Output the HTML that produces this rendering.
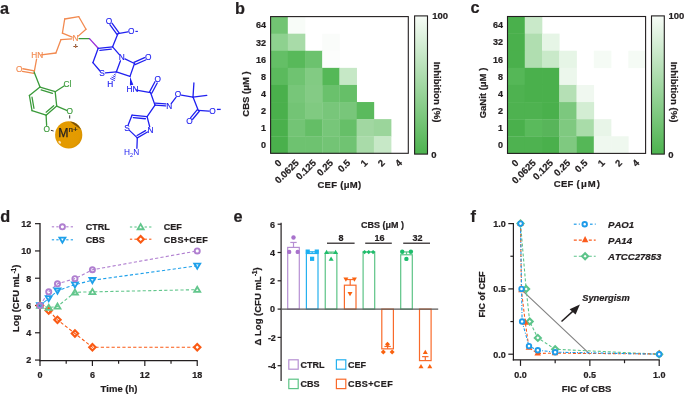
<!DOCTYPE html>
<html><head><meta charset="utf-8"><style>
html,body{margin:0;padding:0;background:#fff;overflow:hidden;}
svg{display:block;font-family:"Liberation Sans", sans-serif;font-kerning:none;filter:blur(0.4px);}
text[font-weight=bold]{stroke:#231f20;stroke-width:0.22px;}
</style></head><body>
<svg width="685" height="396" viewBox="0 0 685 396">
<rect width="685" height="396" fill="#fff"/>
<text x="0" y="13.8" font-size="16.3" font-weight="bold" text-anchor="start" fill="#231f20"  style="">a</text>
<text x="234.9" y="13.8" font-size="16.3" font-weight="bold" text-anchor="start" fill="#231f20"  style="">b</text>
<text x="470.5" y="12.7" font-size="16.3" font-weight="bold" text-anchor="start" fill="#231f20"  style="">c</text>
<text x="0.2" y="222" font-size="16.3" font-weight="bold" text-anchor="start" fill="#231f20"  style="">d</text>
<text x="233.5" y="222.3" font-size="16.3" font-weight="bold" text-anchor="start" fill="#231f20"  style="">e</text>
<text x="470.4" y="222.3" font-size="16.3" font-weight="bold" text-anchor="start" fill="#231f20"  style="">f</text>
<rect x="270.6" y="16.6" width="17.51" height="17.39" fill="#72c473"/>
<rect x="287.81" y="16.6" width="17.51" height="17.39" fill="#f8fcf8"/>
<rect x="270.6" y="33.69" width="17.51" height="17.39" fill="#8ed18f"/>
<rect x="287.81" y="33.69" width="17.51" height="17.39" fill="#a8dba8"/>
<rect x="322.24" y="33.69" width="17.51" height="17.39" fill="#fafcfa"/>
<rect x="270.6" y="50.78" width="17.51" height="17.39" fill="#64bf66"/>
<rect x="287.81" y="50.78" width="17.51" height="17.39" fill="#58b95a"/>
<rect x="305.03" y="50.78" width="17.51" height="17.39" fill="#6cc26e"/>
<rect x="322.24" y="50.78" width="17.51" height="17.39" fill="#fcfdfc"/>
<rect x="270.6" y="67.86" width="17.51" height="17.39" fill="#5bba5d"/>
<rect x="287.81" y="67.86" width="17.51" height="17.39" fill="#6fc371"/>
<rect x="305.03" y="67.86" width="17.51" height="17.39" fill="#82cb83"/>
<rect x="322.24" y="67.86" width="17.51" height="17.39" fill="#55b857"/>
<rect x="339.45" y="67.86" width="17.51" height="17.39" fill="#c6e8c6"/>
<rect x="270.6" y="84.95" width="17.51" height="17.39" fill="#4ab04c"/>
<rect x="287.81" y="84.95" width="17.51" height="17.39" fill="#77c679"/>
<rect x="305.03" y="84.95" width="17.51" height="17.39" fill="#84cb85"/>
<rect x="322.24" y="84.95" width="17.51" height="17.39" fill="#6ac16c"/>
<rect x="339.45" y="84.95" width="17.51" height="17.39" fill="#66bf68"/>
<rect x="270.6" y="102.04" width="17.51" height="17.39" fill="#4ab04c"/>
<rect x="287.81" y="102.04" width="17.51" height="17.39" fill="#73c475"/>
<rect x="305.03" y="102.04" width="17.51" height="17.39" fill="#80ca81"/>
<rect x="322.24" y="102.04" width="17.51" height="17.39" fill="#78c67a"/>
<rect x="339.45" y="102.04" width="17.51" height="17.39" fill="#78c67a"/>
<rect x="356.66" y="102.04" width="17.51" height="17.39" fill="#5bba5d"/>
<rect x="270.6" y="119.12" width="17.51" height="17.39" fill="#4ab04c"/>
<rect x="287.81" y="119.12" width="17.51" height="17.39" fill="#73c475"/>
<rect x="305.03" y="119.12" width="17.51" height="17.39" fill="#64be66"/>
<rect x="322.24" y="119.12" width="17.51" height="17.39" fill="#77c679"/>
<rect x="339.45" y="119.12" width="17.51" height="17.39" fill="#66bf68"/>
<rect x="356.66" y="119.12" width="17.51" height="17.39" fill="#a1d7a1"/>
<rect x="373.88" y="119.12" width="17.51" height="17.39" fill="#9bd59b"/>
<rect x="270.6" y="136.21" width="17.51" height="17.39" fill="#4ab04c"/>
<rect x="287.81" y="136.21" width="17.51" height="17.39" fill="#6ec270"/>
<rect x="305.03" y="136.21" width="17.51" height="17.39" fill="#6ec270"/>
<rect x="322.24" y="136.21" width="17.51" height="17.39" fill="#73c475"/>
<rect x="339.45" y="136.21" width="17.51" height="17.39" fill="#70c372"/>
<rect x="356.66" y="136.21" width="17.51" height="17.39" fill="#a9dba9"/>
<rect x="373.88" y="136.21" width="17.51" height="17.39" fill="#c7e8c7"/>
<rect x="270.6" y="16.6" width="137.7" height="136.7" fill="none" stroke="#231f20" stroke-width="1.1"/>
<text x="266" y="28.44" font-size="9" font-weight="bold" text-anchor="end" fill="#231f20"  style="">64</text>
<text x="266" y="45.53" font-size="9" font-weight="bold" text-anchor="end" fill="#231f20"  style="">32</text>
<text x="266" y="62.62" font-size="9" font-weight="bold" text-anchor="end" fill="#231f20"  style="">16</text>
<text x="266" y="79.71" font-size="9" font-weight="bold" text-anchor="end" fill="#231f20"  style="">8</text>
<text x="266" y="96.79" font-size="9" font-weight="bold" text-anchor="end" fill="#231f20"  style="">4</text>
<text x="266" y="113.88" font-size="9" font-weight="bold" text-anchor="end" fill="#231f20"  style="">2</text>
<text x="266" y="130.97" font-size="9" font-weight="bold" text-anchor="end" fill="#231f20"  style="">1</text>
<text x="266" y="148.06" font-size="9" font-weight="bold" text-anchor="end" fill="#231f20"  style="">0</text>
<text x="0" y="0" font-size="9.5" font-weight="bold" text-anchor="end" fill="#231f20" transform="translate(282.21,163.5) rotate(-45)">0</text>
<text x="0" y="0" font-size="9.5" font-weight="bold" text-anchor="end" fill="#231f20" transform="translate(299.42,163.5) rotate(-45)">0.0625</text>
<text x="0" y="0" font-size="9.5" font-weight="bold" text-anchor="end" fill="#231f20" transform="translate(316.63,163.5) rotate(-45)">0.125</text>
<text x="0" y="0" font-size="9.5" font-weight="bold" text-anchor="end" fill="#231f20" transform="translate(333.84,163.5) rotate(-45)">0.25</text>
<text x="0" y="0" font-size="9.5" font-weight="bold" text-anchor="end" fill="#231f20" transform="translate(351.06,163.5) rotate(-45)">0.5</text>
<text x="0" y="0" font-size="9.5" font-weight="bold" text-anchor="end" fill="#231f20" transform="translate(368.27,163.5) rotate(-45)">1</text>
<text x="0" y="0" font-size="9.5" font-weight="bold" text-anchor="end" fill="#231f20" transform="translate(385.48,163.5) rotate(-45)">2</text>
<text x="0" y="0" font-size="9.5" font-weight="bold" text-anchor="end" fill="#231f20" transform="translate(402.69,163.5) rotate(-45)">4</text>
<text x="339.45" y="188.4" font-size="9.5" font-weight="bold" text-anchor="middle" fill="#231f20"  style="letter-spacing:0.3px">CEF (μM)</text>
<text x="0" y="0" font-size="9.5" font-weight="bold" text-anchor="middle" fill="#231f20" transform="translate(249.3,94) rotate(-90)">CBS (μM )</text>
<defs><linearGradient id="gb" x1="0" y1="0" x2="0" y2="1"><stop offset="0" stop-color="#f7fcf7"/><stop offset="1" stop-color="#4db34f"/></linearGradient></defs>
<rect x="414.6" y="15.9" width="12.9" height="138.2" fill="url(#gb)" stroke="#231f20" stroke-width="1.1"/>
<text x="432.2" y="19.2" font-size="9.5" font-weight="bold" text-anchor="start" fill="#231f20"  style="">100</text>
<text x="431.2" y="157.6" font-size="9.5" font-weight="bold" text-anchor="start" fill="#231f20"  style="">0</text>
<text x="0" y="0" font-size="9.6" font-weight="bold" text-anchor="middle" fill="#231f20" transform="translate(434.1,92) rotate(90)">Inhibition (%)</text>
<rect x="507.5" y="16.5" width="17.56" height="17.41" fill="#4ab04c"/>
<rect x="524.76" y="16.5" width="17.56" height="17.41" fill="#c9e9c9"/>
<rect x="507.5" y="33.61" width="17.56" height="17.41" fill="#4ab04c"/>
<rect x="524.76" y="33.61" width="17.56" height="17.41" fill="#b0deb0"/>
<rect x="542.02" y="33.61" width="17.56" height="17.41" fill="#e6f5e6"/>
<rect x="507.5" y="50.73" width="17.56" height="17.41" fill="#4ab04c"/>
<rect x="524.76" y="50.73" width="17.56" height="17.41" fill="#b0deb0"/>
<rect x="542.02" y="50.73" width="17.56" height="17.41" fill="#c9e9c9"/>
<rect x="559.29" y="50.73" width="17.56" height="17.41" fill="#e6f5e6"/>
<rect x="593.81" y="50.73" width="17.56" height="17.41" fill="#f5fbf5"/>
<rect x="628.34" y="50.73" width="17.56" height="17.41" fill="#f5fbf5"/>
<rect x="507.5" y="67.84" width="17.56" height="17.41" fill="#55b757"/>
<rect x="524.76" y="67.84" width="17.56" height="17.41" fill="#4ab04c"/>
<rect x="542.02" y="67.84" width="17.56" height="17.41" fill="#4ab04c"/>
<rect x="559.29" y="67.84" width="17.56" height="17.41" fill="#ecf7ec"/>
<rect x="507.5" y="84.95" width="17.56" height="17.41" fill="#4eb250"/>
<rect x="524.76" y="84.95" width="17.56" height="17.41" fill="#4ab04c"/>
<rect x="542.02" y="84.95" width="17.56" height="17.41" fill="#4ab04c"/>
<rect x="559.29" y="84.95" width="17.56" height="17.41" fill="#b5e0b5"/>
<rect x="576.55" y="84.95" width="17.56" height="17.41" fill="#f0f8f0"/>
<rect x="507.5" y="102.06" width="17.56" height="17.41" fill="#4eb250"/>
<rect x="524.76" y="102.06" width="17.56" height="17.41" fill="#4eb250"/>
<rect x="542.02" y="102.06" width="17.56" height="17.41" fill="#4ab04c"/>
<rect x="559.29" y="102.06" width="17.56" height="17.41" fill="#7cc87e"/>
<rect x="576.55" y="102.06" width="17.56" height="17.41" fill="#d3edd3"/>
<rect x="507.5" y="119.18" width="17.56" height="17.41" fill="#4ab04c"/>
<rect x="524.76" y="119.18" width="17.56" height="17.41" fill="#5aba5c"/>
<rect x="542.02" y="119.18" width="17.56" height="17.41" fill="#58b55a"/>
<rect x="559.29" y="119.18" width="17.56" height="17.41" fill="#7fc980"/>
<rect x="576.55" y="119.18" width="17.56" height="17.41" fill="#a9dca9"/>
<rect x="593.81" y="119.18" width="17.56" height="17.41" fill="#e8f5e8"/>
<rect x="507.5" y="136.29" width="17.56" height="17.41" fill="#4eb250"/>
<rect x="524.76" y="136.29" width="17.56" height="17.41" fill="#4eb250"/>
<rect x="542.02" y="136.29" width="17.56" height="17.41" fill="#4ab04c"/>
<rect x="559.29" y="136.29" width="17.56" height="17.41" fill="#7fc980"/>
<rect x="576.55" y="136.29" width="17.56" height="17.41" fill="#55b757"/>
<rect x="593.81" y="136.29" width="17.56" height="17.41" fill="#eff8ef"/>
<rect x="611.08" y="136.29" width="17.56" height="17.41" fill="#eff8ef"/>
<rect x="507.5" y="16.5" width="138.1" height="136.9" fill="none" stroke="#231f20" stroke-width="1.1"/>
<text x="502.9" y="28.36" font-size="9" font-weight="bold" text-anchor="end" fill="#231f20"  style="">64</text>
<text x="502.9" y="45.47" font-size="9" font-weight="bold" text-anchor="end" fill="#231f20"  style="">32</text>
<text x="502.9" y="62.58" font-size="9" font-weight="bold" text-anchor="end" fill="#231f20"  style="">16</text>
<text x="502.9" y="79.69" font-size="9" font-weight="bold" text-anchor="end" fill="#231f20"  style="">8</text>
<text x="502.9" y="96.81" font-size="9" font-weight="bold" text-anchor="end" fill="#231f20"  style="">4</text>
<text x="502.9" y="113.92" font-size="9" font-weight="bold" text-anchor="end" fill="#231f20"  style="">2</text>
<text x="502.9" y="131.03" font-size="9" font-weight="bold" text-anchor="end" fill="#231f20"  style="">1</text>
<text x="502.9" y="148.14" font-size="9" font-weight="bold" text-anchor="end" fill="#231f20"  style="">0</text>
<text x="0" y="0" font-size="9.5" font-weight="bold" text-anchor="end" fill="#231f20" transform="translate(519.13,163.6) rotate(-45)">0</text>
<text x="0" y="0" font-size="9.5" font-weight="bold" text-anchor="end" fill="#231f20" transform="translate(536.39,163.6) rotate(-45)">0.0625</text>
<text x="0" y="0" font-size="9.5" font-weight="bold" text-anchor="end" fill="#231f20" transform="translate(553.66,163.6) rotate(-45)">0.125</text>
<text x="0" y="0" font-size="9.5" font-weight="bold" text-anchor="end" fill="#231f20" transform="translate(570.92,163.6) rotate(-45)">0.25</text>
<text x="0" y="0" font-size="9.5" font-weight="bold" text-anchor="end" fill="#231f20" transform="translate(588.18,163.6) rotate(-45)">0.5</text>
<text x="0" y="0" font-size="9.5" font-weight="bold" text-anchor="end" fill="#231f20" transform="translate(605.44,163.6) rotate(-45)">1</text>
<text x="0" y="0" font-size="9.5" font-weight="bold" text-anchor="end" fill="#231f20" transform="translate(622.71,163.6) rotate(-45)">2</text>
<text x="0" y="0" font-size="9.5" font-weight="bold" text-anchor="end" fill="#231f20" transform="translate(639.97,163.6) rotate(-45)">4</text>
<text x="576.95" y="187.4" font-size="9.5" font-weight="bold" text-anchor="middle" fill="#231f20"  style="letter-spacing:0.3px">CEF (<tspan dx="0.8">μ</tspan><tspan dx="0.8">M</tspan><tspan dx="0.6">)</tspan></text>
<text x="0" y="0" font-size="9.5" font-weight="bold" text-anchor="middle" fill="#231f20" transform="translate(485.5,93) rotate(-90)">GaNit (μM )</text>
<defs><linearGradient id="gc" x1="0" y1="0" x2="0" y2="1"><stop offset="0" stop-color="#f7fcf7"/><stop offset="1" stop-color="#4db34f"/></linearGradient></defs>
<rect x="651.5" y="15.9" width="12.8" height="138.2" fill="url(#gc)" stroke="#231f20" stroke-width="1.1"/>
<text x="668.5" y="19.2" font-size="9.5" font-weight="bold" text-anchor="start" fill="#231f20"  style="">100</text>
<text x="668.2" y="157.6" font-size="9.5" font-weight="bold" text-anchor="start" fill="#231f20"  style="">0</text>
<text x="0" y="0" font-size="9.6" font-weight="bold" text-anchor="middle" fill="#231f20" transform="translate(670.9,92) rotate(90)">Inhibition (%)</text>
<line x1="40" y1="223" x2="40" y2="361.2" stroke="#231f20" stroke-width="1.3"/>
<line x1="39.4" y1="360.6" x2="197.6" y2="360.6" stroke="#231f20" stroke-width="1.3"/>
<line x1="35" y1="360.06" x2="40" y2="360.06" stroke="#231f20" stroke-width="1.2" />
<text x="31.3" y="363.36" font-size="9" font-weight="bold" text-anchor="end" fill="#231f20"  style="">2</text>
<line x1="35" y1="332.78" x2="40" y2="332.78" stroke="#231f20" stroke-width="1.2" />
<text x="31.3" y="336.08" font-size="9" font-weight="bold" text-anchor="end" fill="#231f20"  style="">4</text>
<line x1="35" y1="305.5" x2="40" y2="305.5" stroke="#231f20" stroke-width="1.2" />
<text x="31.3" y="308.8" font-size="9" font-weight="bold" text-anchor="end" fill="#231f20"  style="">6</text>
<line x1="35" y1="278.22" x2="40" y2="278.22" stroke="#231f20" stroke-width="1.2" />
<text x="31.3" y="281.52" font-size="9" font-weight="bold" text-anchor="end" fill="#231f20"  style="">8</text>
<line x1="35" y1="250.94" x2="40" y2="250.94" stroke="#231f20" stroke-width="1.2" />
<text x="31.3" y="254.24" font-size="9" font-weight="bold" text-anchor="end" fill="#231f20"  style="">10</text>
<line x1="35" y1="223.66" x2="40" y2="223.66" stroke="#231f20" stroke-width="1.2" />
<text x="31.3" y="226.96" font-size="9" font-weight="bold" text-anchor="end" fill="#231f20"  style="">12</text>
<line x1="40" y1="360.6" x2="40" y2="366" stroke="#231f20" stroke-width="1.2" />
<text x="40" y="377.6" font-size="9" font-weight="bold" text-anchor="middle" fill="#231f20"  style="">0</text>
<line x1="92.41" y1="360.6" x2="92.41" y2="366" stroke="#231f20" stroke-width="1.2" />
<text x="92.41" y="377.6" font-size="9" font-weight="bold" text-anchor="middle" fill="#231f20"  style="">6</text>
<line x1="144.82" y1="360.6" x2="144.82" y2="366" stroke="#231f20" stroke-width="1.2" />
<text x="144.82" y="377.6" font-size="9" font-weight="bold" text-anchor="middle" fill="#231f20"  style="">12</text>
<line x1="197.23" y1="360.6" x2="197.23" y2="366" stroke="#231f20" stroke-width="1.2" />
<text x="197.23" y="377.6" font-size="9" font-weight="bold" text-anchor="middle" fill="#231f20"  style="">18</text>
<line x1="66.2" y1="360.6" x2="66.2" y2="363.8" stroke="#231f20" stroke-width="1.2" />
<line x1="118.61" y1="360.6" x2="118.61" y2="363.8" stroke="#231f20" stroke-width="1.2" />
<line x1="171.02" y1="360.6" x2="171.02" y2="363.8" stroke="#231f20" stroke-width="1.2" />
<text x="119" y="391.7" font-size="9.5" font-weight="bold" text-anchor="middle" fill="#231f20"  style="">Time (h)</text>
<text x="0" y="0" font-size="9.3" font-weight="bold" text-anchor="middle" fill="#231f20" transform="translate(19.3,298.3) rotate(-90)">Log (CFU mL<tspan dy="-3.4" font-size="6.5">-1</tspan><tspan dy="3">)</tspan></text>
<polyline points="40,305.5 48.73,307.55 57.47,306.45 74.94,292.27 92.41,291.86 197.23,289.68" fill="none" stroke="#62c68c" stroke-width="1.1" stroke-dasharray="3.2 2.2"/>
<polyline points="40,305.5 48.73,310.55 57.47,319.82 74.94,333.46 92.41,347.24 197.23,347.24" fill="none" stroke="#fa5a14" stroke-width="1.1" stroke-dasharray="3.2 2.2"/>
<polyline points="40,305.5 48.73,298.41 57.47,290.77 74.94,284.63 92.41,280.27 197.23,265.81" fill="none" stroke="#1ea0ea" stroke-width="1.1" stroke-dasharray="3.2 2.2"/>
<polyline points="40,305.5 48.73,291.86 57.47,283.81 74.94,278.63 92.41,269.76 197.23,250.94" fill="none" stroke="#b07fd0" stroke-width="1.1" stroke-dasharray="3.2 2.2"/>
<path d="M40,302.3 L43.2,305.5 L40,308.7 L36.8,305.5 Z" fill="none" stroke="#fa5a14" stroke-width="2.1"/>
<path d="M48.73,307.35 L51.94,310.55 L48.73,313.75 L45.53,310.55 Z" fill="none" stroke="#fa5a14" stroke-width="2.1"/>
<path d="M57.47,316.62 L60.67,319.82 L57.47,323.02 L54.27,319.82 Z" fill="none" stroke="#fa5a14" stroke-width="2.1"/>
<path d="M74.94,330.26 L78.14,333.46 L74.94,336.66 L71.74,333.46 Z" fill="none" stroke="#fa5a14" stroke-width="2.1"/>
<path d="M92.41,344.04 L95.61,347.24 L92.41,350.44 L89.21,347.24 Z" fill="none" stroke="#fa5a14" stroke-width="2.1"/>
<path d="M197.23,344.04 L200.43,347.24 L197.23,350.44 L194.03,347.24 Z" fill="none" stroke="#fa5a14" stroke-width="2.1"/>
<path d="M37,307.75 L43,307.75 L40,302.65 Z" fill="none" stroke="#62c68c" stroke-width="1.8" stroke-linejoin="miter"/>
<path d="M45.73,309.8 L51.73,309.8 L48.73,304.7 Z" fill="none" stroke="#62c68c" stroke-width="1.8" stroke-linejoin="miter"/>
<path d="M54.47,308.7 L60.47,308.7 L57.47,303.6 Z" fill="none" stroke="#62c68c" stroke-width="1.8" stroke-linejoin="miter"/>
<path d="M71.94,294.52 L77.94,294.52 L74.94,289.42 Z" fill="none" stroke="#62c68c" stroke-width="1.8" stroke-linejoin="miter"/>
<path d="M89.41,294.11 L95.41,294.11 L92.41,289.01 Z" fill="none" stroke="#62c68c" stroke-width="1.8" stroke-linejoin="miter"/>
<path d="M194.23,291.93 L200.23,291.93 L197.23,286.83 Z" fill="none" stroke="#62c68c" stroke-width="1.8" stroke-linejoin="miter"/>
<path d="M37,303.25 L43,303.25 L40,308.35 Z" fill="none" stroke="#1ea0ea" stroke-width="1.8" stroke-linejoin="miter"/>
<path d="M45.73,296.16 L51.73,296.16 L48.73,301.26 Z" fill="none" stroke="#1ea0ea" stroke-width="1.8" stroke-linejoin="miter"/>
<path d="M54.47,288.52 L60.47,288.52 L57.47,293.62 Z" fill="none" stroke="#1ea0ea" stroke-width="1.8" stroke-linejoin="miter"/>
<path d="M71.94,282.38 L77.94,282.38 L74.94,287.48 Z" fill="none" stroke="#1ea0ea" stroke-width="1.8" stroke-linejoin="miter"/>
<path d="M89.41,278.02 L95.41,278.02 L92.41,283.12 Z" fill="none" stroke="#1ea0ea" stroke-width="1.8" stroke-linejoin="miter"/>
<path d="M194.23,263.56 L200.23,263.56 L197.23,268.66 Z" fill="none" stroke="#1ea0ea" stroke-width="1.8" stroke-linejoin="miter"/>
<circle cx="40" cy="305.5" r="2.55" fill="none" stroke="#b07fd0" stroke-width="1.9"/>
<circle cx="48.73" cy="291.86" r="2.55" fill="none" stroke="#b07fd0" stroke-width="1.9"/>
<circle cx="57.47" cy="283.81" r="2.55" fill="none" stroke="#b07fd0" stroke-width="1.9"/>
<circle cx="74.94" cy="278.63" r="2.55" fill="none" stroke="#b07fd0" stroke-width="1.9"/>
<circle cx="92.41" cy="269.76" r="2.55" fill="none" stroke="#b07fd0" stroke-width="1.9"/>
<circle cx="197.23" cy="250.94" r="2.55" fill="none" stroke="#b07fd0" stroke-width="1.9"/>
<line x1="51.8" y1="226.8" x2="54.1" y2="226.8" stroke="#b07fd0" stroke-width="1.1" />
<line x1="56.3" y1="226.8" x2="58.6" y2="226.8" stroke="#b07fd0" stroke-width="1.1" />
<line x1="66.2" y1="226.8" x2="68.5" y2="226.8" stroke="#b07fd0" stroke-width="1.1" />
<line x1="70.7" y1="226.8" x2="73" y2="226.8" stroke="#b07fd0" stroke-width="1.1" />
<circle cx="62.4" cy="226.8" r="2.55" fill="none" stroke="#b07fd0" stroke-width="1.9"/>
<text x="85.8" y="230.1" font-size="9" font-weight="bold" text-anchor="start" fill="#231f20"  style="">CTRL</text>
<line x1="51.8" y1="239.8" x2="54.1" y2="239.8" stroke="#1ea0ea" stroke-width="1.1" />
<line x1="56.3" y1="239.8" x2="58.6" y2="239.8" stroke="#1ea0ea" stroke-width="1.1" />
<line x1="66.2" y1="239.8" x2="68.5" y2="239.8" stroke="#1ea0ea" stroke-width="1.1" />
<line x1="70.7" y1="239.8" x2="73" y2="239.8" stroke="#1ea0ea" stroke-width="1.1" />
<path d="M59.4,237.55 L65.4,237.55 L62.4,242.65 Z" fill="none" stroke="#1ea0ea" stroke-width="1.8" stroke-linejoin="miter"/>
<text x="85.8" y="243.1" font-size="9" font-weight="bold" text-anchor="start" fill="#231f20"  style="">CBS</text>
<line x1="129.9" y1="227" x2="132.2" y2="227" stroke="#62c68c" stroke-width="1.1" />
<line x1="134.4" y1="227" x2="136.7" y2="227" stroke="#62c68c" stroke-width="1.1" />
<line x1="144.6" y1="227" x2="146.9" y2="227" stroke="#62c68c" stroke-width="1.1" />
<line x1="149.1" y1="227" x2="151.4" y2="227" stroke="#62c68c" stroke-width="1.1" />
<path d="M137.65,229.25 L143.65,229.25 L140.65,224.15 Z" fill="none" stroke="#62c68c" stroke-width="1.8" stroke-linejoin="miter"/>
<text x="163.8" y="230.3" font-size="9" font-weight="bold" text-anchor="start" fill="#231f20"  style="">CEF</text>
<line x1="129.9" y1="239.2" x2="132.2" y2="239.2" stroke="#fa5a14" stroke-width="1.1" />
<line x1="134.4" y1="239.2" x2="136.7" y2="239.2" stroke="#fa5a14" stroke-width="1.1" />
<line x1="144.6" y1="239.2" x2="146.9" y2="239.2" stroke="#fa5a14" stroke-width="1.1" />
<line x1="149.1" y1="239.2" x2="151.4" y2="239.2" stroke="#fa5a14" stroke-width="1.1" />
<path d="M140.65,236 L143.85,239.2 L140.65,242.4 L137.45,239.2 Z" fill="none" stroke="#fa5a14" stroke-width="2.1"/>
<text x="163.8" y="242.5" font-size="9" font-weight="bold" text-anchor="start" fill="#231f20"  style="letter-spacing:0.3px">CBS+CEF</text>
<line x1="281.1" y1="222.8" x2="281.1" y2="381.0" stroke="#231f20" stroke-width="1.2"/>
<line x1="277.6" y1="224.2" x2="281.1" y2="224.2" stroke="#231f20" stroke-width="1.2" />
<text x="275" y="227.5" font-size="9" font-weight="bold" text-anchor="end" fill="#231f20"  style="">6</text>
<line x1="277.6" y1="252.5" x2="281.1" y2="252.5" stroke="#231f20" stroke-width="1.2" />
<text x="275" y="255.8" font-size="9" font-weight="bold" text-anchor="end" fill="#231f20"  style="">4</text>
<line x1="277.6" y1="280.8" x2="281.1" y2="280.8" stroke="#231f20" stroke-width="1.2" />
<text x="275" y="284.1" font-size="9" font-weight="bold" text-anchor="end" fill="#231f20"  style="">2</text>
<line x1="277.6" y1="309.1" x2="281.1" y2="309.1" stroke="#231f20" stroke-width="1.2" />
<text x="275" y="312.4" font-size="9" font-weight="bold" text-anchor="end" fill="#231f20"  style="">0</text>
<line x1="277.6" y1="337.4" x2="281.1" y2="337.4" stroke="#231f20" stroke-width="1.2" />
<text x="275.9" y="340.7" font-size="9" font-weight="bold" text-anchor="end" fill="#231f20"  style="">-2</text>
<line x1="277.6" y1="365.7" x2="281.1" y2="365.7" stroke="#231f20" stroke-width="1.2" />
<text x="275.9" y="369" font-size="9" font-weight="bold" text-anchor="end" fill="#231f20"  style="">-4</text>
<text x="0" y="0" font-size="9.5" font-weight="bold" text-anchor="middle" fill="#231f20" transform="translate(260.8,306.4) rotate(-90)">Δ Log (CFU mL<tspan dy="-3.4" font-size="6.5">-1</tspan><tspan dy="3">)</tspan></text>
<rect x="287.7" y="247.41" width="11.6" height="61.69" fill="#fff" stroke="#b68fd3" stroke-width="1.2"/>
<line x1="293.5" y1="247.41" x2="293.5" y2="242.45" stroke="#b68fd3" stroke-width="1.2" />
<line x1="290.3" y1="242.45" x2="296.7" y2="242.45" stroke="#b68fd3" stroke-width="1.2" />
<rect x="306.4" y="253.49" width="11.6" height="55.61" fill="#fff" stroke="#25b1ef" stroke-width="1.2"/>
<line x1="312.2" y1="253.49" x2="312.2" y2="251.79" stroke="#25b1ef" stroke-width="1.2" />
<line x1="309" y1="251.79" x2="315.4" y2="251.79" stroke="#25b1ef" stroke-width="1.2" />
<rect x="325.25" y="253.21" width="11.6" height="55.89" fill="#fff" stroke="#5cc486" stroke-width="1.2"/>
<line x1="331.05" y1="253.21" x2="331.05" y2="252.08" stroke="#5cc486" stroke-width="1.2" />
<line x1="327.85" y1="252.08" x2="334.25" y2="252.08" stroke="#5cc486" stroke-width="1.2" />
<rect x="344.4" y="285.19" width="11.6" height="23.91" fill="#fff" stroke="#f96a2a" stroke-width="1.2"/>
<line x1="350.2" y1="285.19" x2="350.2" y2="279.53" stroke="#f96a2a" stroke-width="1.2" />
<line x1="347" y1="279.53" x2="353.4" y2="279.53" stroke="#f96a2a" stroke-width="1.2" />
<rect x="363.1" y="251.93" width="11.6" height="57.17" fill="#fff" stroke="#5cc486" stroke-width="1.2"/>
<rect x="381.8" y="309.1" width="11.6" height="39.76" fill="#fff" stroke="#f96a2a" stroke-width="1.2"/>
<line x1="387.6" y1="348.86" x2="387.6" y2="346.46" stroke="#f96a2a" stroke-width="1.2" />
<line x1="384.4" y1="346.46" x2="390.8" y2="346.46" stroke="#f96a2a" stroke-width="1.2" />
<rect x="400.7" y="254.76" width="11.6" height="54.34" fill="#fff" stroke="#5cc486" stroke-width="1.2"/>
<line x1="406.5" y1="254.76" x2="406.5" y2="251.93" stroke="#5cc486" stroke-width="1.2" />
<line x1="403.3" y1="251.93" x2="409.7" y2="251.93" stroke="#5cc486" stroke-width="1.2" />
<rect x="419.5" y="309.1" width="11.6" height="51.51" fill="#fff" stroke="#f96a2a" stroke-width="1.2"/>
<line x1="425.3" y1="360.61" x2="425.3" y2="356.64" stroke="#f96a2a" stroke-width="1.2" />
<line x1="422.1" y1="356.64" x2="428.5" y2="356.64" stroke="#f96a2a" stroke-width="1.2" />
<line x1="281.1" y1="309.1" x2="438.2" y2="309.1" stroke="#5a5a5a" stroke-width="1.4"/>
<circle cx="293.5" cy="237.5" r="2.2" fill="#a872cc"/>
<circle cx="289.2" cy="251.9" r="2.2" fill="#a872cc"/>
<circle cx="297.7" cy="251.9" r="2.2" fill="#a872cc"/>
<rect x="305.6" y="249.5" width="4.2" height="4.2" fill="#1cb0f2"/>
<rect x="314.7" y="249.5" width="4.2" height="4.2" fill="#1cb0f2"/>
<rect x="310" y="256.7" width="4.2" height="4.2" fill="#1cb0f2"/>
<path d="M324.1,253.9 L329.1,253.9 L326.6,249.65 Z" fill="#1fbd6c"/>
<path d="M333.1,253.9 L338.1,253.9 L335.6,249.65 Z" fill="#1fbd6c"/>
<path d="M328.6,260.7 L333.6,260.7 L331.1,256.45 Z" fill="#1fbd6c"/>
<path d="M343.4,277.6 L348.4,277.6 L345.9,281.85 Z" fill="#f9620f"/>
<path d="M351.9,277.6 L356.9,277.6 L354.4,281.85 Z" fill="#f9620f"/>
<path d="M347.5,292 L352.5,292 L350,296.25 Z" fill="#f9620f"/>
<path d="M364.6,249.9 L366.8,252.1 L364.6,254.3 L362.4,252.1 Z" fill="#1fbd6c"/>
<path d="M368.7,249.9 L370.9,252.1 L368.7,254.3 L366.5,252.1 Z" fill="#1fbd6c"/>
<path d="M373.1,249.9 L375.3,252.1 L373.1,254.3 L370.9,252.1 Z" fill="#1fbd6c"/>
<path d="M387.5,341.7 L390,344.2 L387.5,346.7 L385,344.2 Z" fill="#f9620f"/>
<path d="M383.3,349.5 L385.8,352 L383.3,354.5 L380.8,352 Z" fill="#f9620f"/>
<path d="M392.1,349.5 L394.6,352 L392.1,354.5 L389.6,352 Z" fill="#f9620f"/>
<circle cx="402.2" cy="251.8" r="2.2" fill="#1fbd6c"/>
<circle cx="410.9" cy="251.8" r="2.2" fill="#1fbd6c"/>
<circle cx="406.4" cy="258.9" r="2.2" fill="#1fbd6c"/>
<path d="M422.8,354 L427.8,354 L425.3,349.75 Z" fill="#f9620f"/>
<path d="M418.5,368.2 L423.5,368.2 L421,363.95 Z" fill="#f9620f"/>
<path d="M427.3,368.2 L432.3,368.2 L429.8,363.95 Z" fill="#f9620f"/>
<text x="382.6" y="228.4" font-size="9" font-weight="bold" text-anchor="middle" fill="#231f20"  style="">CBS (μM )</text>
<text x="340.9" y="240.9" font-size="9" font-weight="bold" text-anchor="middle" fill="#231f20"  style="">8</text>
<text x="379.6" y="240.9" font-size="9" font-weight="bold" text-anchor="middle" fill="#231f20"  style="">16</text>
<text x="417.6" y="240.9" font-size="9" font-weight="bold" text-anchor="middle" fill="#231f20"  style="">32</text>
<line x1="327" y1="243.2" x2="354.6" y2="243.2" stroke="#231f20" stroke-width="1.2" />
<line x1="365.2" y1="243.2" x2="391.8" y2="243.2" stroke="#231f20" stroke-width="1.2" />
<line x1="403.2" y1="243.2" x2="430" y2="243.2" stroke="#231f20" stroke-width="1.2" />
<rect x="288.8" y="359.8" width="9.4" height="9.4" fill="#fff" stroke="#b68fd3" stroke-width="1.2"/>
<text x="300.4" y="367.8" font-size="9" font-weight="bold" text-anchor="start" fill="#231f20"  style="">CTRL</text>
<rect x="336.4" y="359.8" width="9.4" height="9.4" fill="#fff" stroke="#25b1ef" stroke-width="1.2"/>
<text x="348" y="367.8" font-size="9" font-weight="bold" text-anchor="start" fill="#231f20"  style="">CEF</text>
<rect x="288.8" y="379.2" width="9.4" height="9.4" fill="#fff" stroke="#5cc486" stroke-width="1.2"/>
<text x="300.4" y="387.2" font-size="9" font-weight="bold" text-anchor="start" fill="#231f20"  style="">CBS</text>
<rect x="336.4" y="379.2" width="9.4" height="9.4" fill="#fff" stroke="#f96a2a" stroke-width="1.2"/>
<text x="348" y="387.2" font-size="9" font-weight="bold" text-anchor="start" fill="#231f20"  style="letter-spacing:0.4px">CBS+CEF</text>
<line x1="513.4" y1="223" x2="513.4" y2="360.4" stroke="#231f20" stroke-width="1.2"/>
<line x1="512.8" y1="359.9" x2="659.8" y2="359.9" stroke="#231f20" stroke-width="1.2"/>
<line x1="508.3" y1="354.2" x2="513.4" y2="354.2" stroke="#231f20" stroke-width="1.2" />
<text x="505.8" y="357.5" font-size="9" font-weight="bold" text-anchor="end" fill="#231f20"  style="">0.0</text>
<line x1="508.3" y1="288.9" x2="513.4" y2="288.9" stroke="#231f20" stroke-width="1.2" />
<text x="505.8" y="292.2" font-size="9" font-weight="bold" text-anchor="end" fill="#231f20"  style="">0.5</text>
<line x1="508.3" y1="223.6" x2="513.4" y2="223.6" stroke="#231f20" stroke-width="1.2" />
<text x="505.8" y="226.9" font-size="9" font-weight="bold" text-anchor="end" fill="#231f20"  style="">1.0</text>
<line x1="510.4" y1="321.55" x2="513.4" y2="321.55" stroke="#231f20" stroke-width="1.2" />
<line x1="510.4" y1="256.25" x2="513.4" y2="256.25" stroke="#231f20" stroke-width="1.2" />
<line x1="520.5" y1="359.9" x2="520.5" y2="365.9" stroke="#231f20" stroke-width="1.2" />
<text x="520.5" y="378.3" font-size="9" font-weight="bold" text-anchor="middle" fill="#231f20"  style="">0.0</text>
<line x1="589.85" y1="359.9" x2="589.85" y2="365.9" stroke="#231f20" stroke-width="1.2" />
<text x="589.85" y="378.3" font-size="9" font-weight="bold" text-anchor="middle" fill="#231f20"  style="">0.5</text>
<line x1="659.2" y1="359.9" x2="659.2" y2="365.9" stroke="#231f20" stroke-width="1.2" />
<text x="659.2" y="378.3" font-size="9" font-weight="bold" text-anchor="middle" fill="#231f20"  style="">1.0</text>
<line x1="555.17" y1="359.9" x2="555.17" y2="363.2" stroke="#231f20" stroke-width="1.2" />
<line x1="624.52" y1="359.9" x2="624.52" y2="363.2" stroke="#231f20" stroke-width="1.2" />
<text x="586.6" y="391.7" font-size="9.5" font-weight="bold" text-anchor="middle" fill="#231f20"  style="">FIC of CBS</text>
<text x="0" y="0" font-size="9" font-weight="bold" text-anchor="middle" fill="#231f20" transform="translate(485.3,294.5) rotate(-90)">FIC of CEF</text>
<line x1="520.5" y1="288.9" x2="589.85" y2="354.2" stroke="#808080" stroke-width="1.1" />
<line x1="561.5" y1="321.5" x2="573.5" y2="310.6" stroke="#231f20" stroke-width="1.5" />
<path d="M579.9,304.4 L569.6,309.3 L575.6,314.6 Z" fill="#231f20"/>
<text x="582.2" y="301.3" font-size="9.3" font-weight="bold" text-anchor="start" fill="#231f20"  style="font-style:italic">Synergism</text>
<polyline points="520.5,223.6 526.12,288.9 529.72,321.55 537.84,337.88 555.17,349.24 659.2,354.2" fill="none" stroke="#5cc48a" stroke-width="1.1" stroke-dasharray="3 2"/>
<polyline points="520.5,223.9 521.4,290.2 525.3,322.6 528.9,347.6 537.7,353.4 555,353.2 659.2,354" fill="none" stroke="#fb5c1e" stroke-width="1.1" stroke-dasharray="3 2"/>
<polyline points="520.5,223.6 521.54,288.9 522.1,321.55 528.99,346.08 537.81,350.2 555.17,352.18 659.2,354.2" fill="none" stroke="#1e9be9" stroke-width="1.1" stroke-dasharray="3 1.5 1 1.5"/>
<path d="M520.5,220.6 L523.5,223.6 L520.5,226.6 L517.5,223.6 Z" fill="#fff" stroke="#5cc48a" stroke-width="2.1"/>
<path d="M526.12,285.9 L529.12,288.9 L526.12,291.9 L523.12,288.9 Z" fill="#fff" stroke="#5cc48a" stroke-width="2.1"/>
<path d="M529.72,318.55 L532.72,321.55 L529.72,324.55 L526.72,321.55 Z" fill="#fff" stroke="#5cc48a" stroke-width="2.1"/>
<path d="M537.84,334.88 L540.84,337.88 L537.84,340.88 L534.84,337.88 Z" fill="#fff" stroke="#5cc48a" stroke-width="2.1"/>
<path d="M555.17,346.24 L558.17,349.24 L555.17,352.24 L552.17,349.24 Z" fill="#fff" stroke="#5cc48a" stroke-width="2.1"/>
<path d="M659.2,351.2 L662.2,354.2 L659.2,357.2 L656.2,354.2 Z" fill="#fff" stroke="#5cc48a" stroke-width="2.1"/>
<path d="M517.25,225.97 L523.75,225.97 L520.5,219.77 Z" fill="#fb5c1e"/>
<path d="M518.15,292.27 L524.65,292.27 L521.4,286.07 Z" fill="#fb5c1e"/>
<path d="M522.05,324.67 L528.55,324.67 L525.3,318.47 Z" fill="#fb5c1e"/>
<path d="M525.65,349.67 L532.15,349.67 L528.9,343.47 Z" fill="#fb5c1e"/>
<path d="M534.45,355.47 L540.95,355.47 L537.7,349.27 Z" fill="#fb5c1e"/>
<path d="M551.75,355.27 L558.25,355.27 L555,349.07 Z" fill="#fb5c1e"/>
<path d="M655.95,356.07 L662.45,356.07 L659.2,349.87 Z" fill="#fb5c1e"/>
<circle cx="520.5" cy="223.6" r="2.25" fill="#fff" stroke="#1e9be9" stroke-width="1.9"/>
<circle cx="521.54" cy="288.9" r="2.25" fill="#fff" stroke="#1e9be9" stroke-width="1.9"/>
<circle cx="522.1" cy="321.55" r="2.25" fill="#fff" stroke="#1e9be9" stroke-width="1.9"/>
<circle cx="528.99" cy="346.08" r="2.25" fill="#fff" stroke="#1e9be9" stroke-width="1.9"/>
<circle cx="537.81" cy="350.2" r="2.25" fill="#fff" stroke="#1e9be9" stroke-width="1.9"/>
<circle cx="555.17" cy="352.18" r="2.25" fill="#fff" stroke="#1e9be9" stroke-width="1.9"/>
<circle cx="659.2" cy="354.2" r="2.25" fill="#fff" stroke="#1e9be9" stroke-width="1.9"/>
<line x1="573.8" y1="224.2" x2="576.6" y2="224.2" stroke="#1e9be9" stroke-width="1.2" />
<line x1="578.8" y1="224.2" x2="579.8" y2="224.2" stroke="#1e9be9" stroke-width="1.2" />
<line x1="590" y1="224.2" x2="592.6" y2="224.2" stroke="#1e9be9" stroke-width="1.2" />
<line x1="594.8" y1="224.2" x2="595.7" y2="224.2" stroke="#1e9be9" stroke-width="1.2" />
<circle cx="584.7" cy="224.2" r="2.25" fill="#fff" stroke="#1e9be9" stroke-width="1.9"/>
<text x="608" y="227.6" font-size="9.6" font-weight="bold" text-anchor="start" fill="#231f20"  style="font-style:italic">PAO1</text>
<line x1="573.8" y1="240.1" x2="595.7" y2="240.1" stroke="#fb5c1e" stroke-width="1.1" stroke-dasharray="3 2"/>
<path d="M581.85,242.17 L588.35,242.17 L585.1,235.97 Z" fill="#fb5c1e"/>
<text x="608" y="243.5" font-size="9.6" font-weight="bold" text-anchor="start" fill="#231f20"  style="font-style:italic">PA14</text>
<line x1="573.8" y1="256.2" x2="595.7" y2="256.2" stroke="#5cc48a" stroke-width="1.1" stroke-dasharray="3 2"/>
<path d="M585.1,253.2 L588.1,256.2 L585.1,259.2 L582.1,256.2 Z" fill="#fff" stroke="#5cc48a" stroke-width="2.1"/>
<text x="608" y="259.6" font-size="9.6" font-weight="bold" text-anchor="start" fill="#231f20"  style="font-style:italic">ATCC27853</text>
<line x1="64.7" y1="19" x2="78.8" y2="16.7" stroke="#f28a50" stroke-width="1.3" stroke-linecap="round"/>
<line x1="78.8" y1="16.7" x2="86" y2="29.3" stroke="#f28a50" stroke-width="1.3" stroke-linecap="round"/>
<line x1="86" y1="29.3" x2="78.21" y2="36.13" stroke="#f28a50" stroke-width="1.3" stroke-linecap="round"/>
<line x1="72.16" y1="37.15" x2="62.4" y2="33.2" stroke="#f28a50" stroke-width="1.3" stroke-linecap="round"/>
<line x1="62.4" y1="33.2" x2="64.7" y2="19" stroke="#f28a50" stroke-width="1.3" stroke-linecap="round"/>
<line x1="71.91" y1="38.79" x2="60.9" y2="39.7" stroke="#f28a50" stroke-width="1.3" stroke-linecap="round"/>
<line x1="60.9" y1="39.7" x2="55.9" y2="53" stroke="#f28a50" stroke-width="1.3" stroke-linecap="round"/>
<line x1="55.9" y1="53" x2="41.27" y2="54.81" stroke="#f28a50" stroke-width="1.3" stroke-linecap="round"/>
<line x1="36.58" y1="59.23" x2="34.2" y2="72.2" stroke="#f28a50" stroke-width="1.3" stroke-linecap="round"/>
<line x1="34.44" y1="70.92" x2="22.88" y2="68.75" stroke="#f28a50" stroke-width="1.3" stroke-linecap="round"/>
<line x1="33.96" y1="73.48" x2="22.4" y2="71.31" stroke="#f28a50" stroke-width="1.3" stroke-linecap="round"/>
<line x1="34.2" y1="72.2" x2="40" y2="87.1" stroke="#3a9a3a" stroke-width="1.3" stroke-linecap="round"/>
<line x1="40" y1="87.1" x2="55.2" y2="91.7" stroke="#3a9a3a" stroke-width="1.3" stroke-linecap="round"/>
<line x1="55.2" y1="91.7" x2="56.7" y2="106.1" stroke="#3a9a3a" stroke-width="1.3" stroke-linecap="round"/>
<line x1="56.7" y1="106.1" x2="46.1" y2="115.2" stroke="#3a9a3a" stroke-width="1.3" stroke-linecap="round"/>
<line x1="46.1" y1="115.2" x2="32" y2="110.6" stroke="#3a9a3a" stroke-width="1.3" stroke-linecap="round"/>
<line x1="32" y1="110.6" x2="29.4" y2="95.5" stroke="#3a9a3a" stroke-width="1.3" stroke-linecap="round"/>
<line x1="29.4" y1="95.5" x2="40" y2="87.1" stroke="#3a9a3a" stroke-width="1.3" stroke-linecap="round"/>
<line x1="55.2" y1="91.7" x2="64.03" y2="86.05" stroke="#3a9a3a" stroke-width="1.3" stroke-linecap="round"/>
<line x1="56.7" y1="106.1" x2="66.67" y2="110.36" stroke="#3a9a3a" stroke-width="1.3" stroke-linecap="round"/>
<line x1="46.1" y1="115.2" x2="46.63" y2="125.4" stroke="#3a9a3a" stroke-width="1.3" stroke-linecap="round"/>
<line x1="79.1" y1="38.53" x2="89.5" y2="38.6" stroke="#3a9a3a" stroke-width="1.3" stroke-linecap="round"/>
<line x1="41.11" y1="89.83" x2="52.48" y2="93.27" stroke="#3a9a3a" stroke-width="1.3" stroke-linecap="round"/>
<line x1="53.69" y1="105.65" x2="46.13" y2="112.14" stroke="#3a9a3a" stroke-width="1.3" stroke-linecap="round"/>
<line x1="33.93" y1="108.26" x2="32.01" y2="97.11" stroke="#3a9a3a" stroke-width="1.3" stroke-linecap="round"/>
<line x1="89.5" y1="38.6" x2="98.2" y2="48.3" stroke="#9a2fd8" stroke-width="1.3" stroke-linecap="round"/>
<line x1="112.6" y1="46.8" x2="118" y2="33.6" stroke="#2020f0" stroke-width="1.3" stroke-linecap="round"/>
<line x1="118" y1="33.6" x2="127.85" y2="31.81" stroke="#2020f0" stroke-width="1.3" stroke-linecap="round"/>
<line x1="112.6" y1="46.8" x2="119.36" y2="54.67" stroke="#2020f0" stroke-width="1.3" stroke-linecap="round"/>
<line x1="124.95" y1="58.95" x2="134.5" y2="63.5" stroke="#2020f0" stroke-width="1.3" stroke-linecap="round"/>
<line x1="134.5" y1="63.5" x2="130" y2="76.4" stroke="#2020f0" stroke-width="1.3" stroke-linecap="round"/>
<line x1="130" y1="76.4" x2="116.4" y2="71.8" stroke="#2020f0" stroke-width="1.3" stroke-linecap="round"/>
<line x1="116.4" y1="71.8" x2="120.46" y2="60.78" stroke="#2020f0" stroke-width="1.3" stroke-linecap="round"/>
<line x1="116.4" y1="71.8" x2="105.38" y2="72.95" stroke="#2020f0" stroke-width="1.3" stroke-linecap="round"/>
<line x1="99.79" y1="70.72" x2="92.9" y2="62.7" stroke="#2020f0" stroke-width="1.3" stroke-linecap="round"/>
<line x1="92.9" y1="62.7" x2="98.2" y2="48.3" stroke="#2020f0" stroke-width="1.3" stroke-linecap="round"/>
<line x1="136.33" y1="90.03" x2="150.6" y2="92.7" stroke="#2020f0" stroke-width="1.3" stroke-linecap="round"/>
<line x1="150.6" y1="92.7" x2="155" y2="105.1" stroke="#2020f0" stroke-width="1.3" stroke-linecap="round"/>
<line x1="171.38" y1="103.33" x2="175.95" y2="97.31" stroke="#2020f0" stroke-width="1.3" stroke-linecap="round"/>
<line x1="181.35" y1="95.16" x2="193" y2="97.1" stroke="#2020f0" stroke-width="1.3" stroke-linecap="round"/>
<line x1="193" y1="97.1" x2="193.9" y2="83" stroke="#2020f0" stroke-width="1.3" stroke-linecap="round"/>
<line x1="193" y1="97.1" x2="206.8" y2="95.4" stroke="#2020f0" stroke-width="1.3" stroke-linecap="round"/>
<line x1="193" y1="97.1" x2="198.3" y2="110.4" stroke="#2020f0" stroke-width="1.3" stroke-linecap="round"/>
<line x1="198.3" y1="110.4" x2="209.01" y2="111.16" stroke="#2020f0" stroke-width="1.3" stroke-linecap="round"/>
<line x1="155" y1="105.1" x2="147.1" y2="116.7" stroke="#2020f0" stroke-width="1.3" stroke-linecap="round"/>
<line x1="132" y1="115.2" x2="128.24" y2="124.83" stroke="#2020f0" stroke-width="1.3" stroke-linecap="round"/>
<line x1="129.45" y1="130.36" x2="137.3" y2="137.9" stroke="#2020f0" stroke-width="1.3" stroke-linecap="round"/>
<line x1="149.7" y1="126.72" x2="147.1" y2="116.7" stroke="#2020f0" stroke-width="1.3" stroke-linecap="round"/>
<line x1="137.3" y1="137.9" x2="136.9" y2="148.3" stroke="#2020f0" stroke-width="1.3" stroke-linecap="round"/>
<line x1="98.2" y1="48.3" x2="112.6" y2="46.8" stroke="#2020f0" stroke-width="1.3" stroke-linecap="round"/>
<line x1="99.92" y1="50.33" x2="111.34" y2="49.14" stroke="#2020f0" stroke-width="1.3" stroke-linecap="round"/>
<line x1="119.05" y1="32.83" x2="111.96" y2="23.17" stroke="#2020f0" stroke-width="1.3" stroke-linecap="round"/>
<line x1="116.95" y1="34.37" x2="109.86" y2="24.71" stroke="#2020f0" stroke-width="1.3" stroke-linecap="round"/>
<line x1="135.03" y1="64.69" x2="145.62" y2="59.97" stroke="#2020f0" stroke-width="1.3" stroke-linecap="round"/>
<line x1="133.97" y1="62.31" x2="144.57" y2="57.6" stroke="#2020f0" stroke-width="1.3" stroke-linecap="round"/>
<line x1="151.75" y1="93.31" x2="157.25" y2="83.01" stroke="#2020f0" stroke-width="1.3" stroke-linecap="round"/>
<line x1="149.45" y1="92.09" x2="154.95" y2="81.79" stroke="#2020f0" stroke-width="1.3" stroke-linecap="round"/>
<line x1="155" y1="105.1" x2="165.61" y2="105.92" stroke="#2020f0" stroke-width="1.3" stroke-linecap="round"/>
<line x1="155.15" y1="103.11" x2="165.77" y2="103.93" stroke="#2020f0" stroke-width="1.3" stroke-linecap="round"/>
<line x1="197.3" y1="109.57" x2="190.67" y2="117.55" stroke="#2020f0" stroke-width="1.3" stroke-linecap="round"/>
<line x1="199.3" y1="111.23" x2="192.67" y2="119.21" stroke="#2020f0" stroke-width="1.3" stroke-linecap="round"/>
<line x1="147.1" y1="116.7" x2="132" y2="115.2" stroke="#2020f0" stroke-width="1.3" stroke-linecap="round"/>
<line x1="145.39" y1="118.74" x2="133.28" y2="117.54" stroke="#2020f0" stroke-width="1.3" stroke-linecap="round"/>
<line x1="137.3" y1="137.9" x2="147.48" y2="132" stroke="#2020f0" stroke-width="1.3" stroke-linecap="round"/>
<line x1="137.06" y1="135.5" x2="145.52" y2="130.6" stroke="#2020f0" stroke-width="1.3" stroke-linecap="round"/>
<line x1="116.1" y1="73.32" x2="115.38" y2="72.97" stroke="#2020f0" stroke-width="0.9" />
<line x1="115.8" y1="75.18" x2="114.09" y2="74.34" stroke="#2020f0" stroke-width="0.9" />
<line x1="115.49" y1="77.04" x2="112.8" y2="75.71" stroke="#2020f0" stroke-width="0.9" />
<line x1="115.19" y1="78.9" x2="111.51" y2="77.09" stroke="#2020f0" stroke-width="0.9" />
<line x1="114.89" y1="80.75" x2="110.23" y2="78.46" stroke="#2020f0" stroke-width="0.9" />
<path d="M130,76.4 L129.96,85.48 L133.3,84.86 Z" fill="#2020f0"/>
<text x="75.5" y="41.25" font-size="8.3" text-anchor="middle" fill="#f28a50" stroke="#f28a50" stroke-width="0.15" >N</text>
<text x="37.3" y="58.05" font-size="8.3" text-anchor="middle" fill="#f28a50" stroke="#f28a50" stroke-width="0.15" >HN</text>
<text x="19.3" y="72.15" font-size="8.3" text-anchor="middle" fill="#f28a50" stroke="#f28a50" stroke-width="0.15" >O</text>
<text x="75.6" y="49.4" font-size="8" font-weight="bold" text-anchor="middle" fill="#f28a50">+</text>
<text x="67.4" y="86.65" font-size="8.3" text-anchor="middle" fill="#3a9a3a" stroke="#3a9a3a" stroke-width="0.15" >Cl</text>
<text x="69.8" y="114.45" font-size="8.3" text-anchor="middle" fill="#3a9a3a" stroke="#3a9a3a" stroke-width="0.15" >O</text>
<text x="46.8" y="131.55" font-size="8.3" text-anchor="middle" fill="#3a9a3a" stroke="#3a9a3a" stroke-width="0.15" >O</text>
<text x="108.9" y="23.95" font-size="8.3" text-anchor="middle" fill="#2020f0" stroke="#2020f0" stroke-width="0.15" >O</text>
<text x="131.2" y="33.95" font-size="8.3" text-anchor="middle" fill="#2020f0" stroke="#2020f0" stroke-width="0.15" >O</text>
<line x1="135.4" y1="31.4" x2="137.9" y2="31.4" stroke="#2020f0" stroke-width="1.1" />
<text x="121.7" y="60.15" font-size="8.3" text-anchor="middle" fill="#2020f0" stroke="#2020f0" stroke-width="0.15" >N</text>
<text x="148.2" y="60.15" font-size="8.3" text-anchor="middle" fill="#2020f0" stroke="#2020f0" stroke-width="0.15" >O</text>
<text x="102" y="76.05" font-size="8.3" text-anchor="middle" fill="#2020f0" stroke="#2020f0" stroke-width="0.15" >S</text>
<text x="110.3" y="86.95" font-size="8.3" text-anchor="middle" fill="#2020f0" stroke="#2020f0" stroke-width="0.15" >H</text>
<text x="132.4" y="92.05" font-size="8.3" text-anchor="middle" fill="#2020f0" stroke="#2020f0" stroke-width="0.15" >HN</text>
<text x="157.7" y="82.15" font-size="8.3" text-anchor="middle" fill="#2020f0" stroke="#2020f0" stroke-width="0.15" >O</text>
<text x="169.2" y="108.95" font-size="8.3" text-anchor="middle" fill="#2020f0" stroke="#2020f0" stroke-width="0.15" >N</text>
<text x="178" y="97.35" font-size="8.3" text-anchor="middle" fill="#2020f0" stroke="#2020f0" stroke-width="0.15" >O</text>
<text x="189.5" y="123.75" font-size="8.3" text-anchor="middle" fill="#2020f0" stroke="#2020f0" stroke-width="0.15" >O</text>
<text x="212.4" y="114.15" font-size="8.3" text-anchor="middle" fill="#2020f0" stroke="#2020f0" stroke-width="0.15" >O</text>
<line x1="216.9" y1="109.4" x2="220.7" y2="109.4" stroke="#2020f0" stroke-width="1.3" />
<text x="127" y="130.75" font-size="8.3" text-anchor="middle" fill="#2020f0" stroke="#2020f0" stroke-width="0.15" >S</text>
<text x="150.6" y="132.95" font-size="8.3" text-anchor="middle" fill="#2020f0" stroke="#2020f0" stroke-width="0.15" >N</text>
<text x="131.6" y="155.0" font-size="8.3" text-anchor="middle" fill="#2020f0">H<tspan dy="1.8" font-size="5.5">2</tspan><tspan dy="-1.8">N</tspan></text>
<defs><radialGradient id="mball" cx="0.4" cy="0.45" r="0.6"><stop offset="0" stop-color="#e49c02"/><stop offset="0.85" stop-color="#e39a00"/><stop offset="1" stop-color="#d99200"/></radialGradient></defs>
<circle cx="68.7" cy="134.9" r="13.6" fill="url(#mball)"/>
<path d="M70.0,121.4 A13.6,13.6 0 0 1 81.2,129.6 Q76.5,126.5 70.0,121.4 Z" fill="#5a3a08" opacity="0.75"/>
<ellipse cx="59.7" cy="142.3" rx="1.6" ry="1.1" transform="rotate(50 59.7 142.3)" fill="#fbe2b8"/>
<text x="58.3" y="137.0" font-size="12.3" fill="#231f20" stroke="#231f20" stroke-width="0.25">M</text>
<text x="68.6" y="132.4" font-size="8" fill="#231f20" stroke="#231f20" stroke-width="0.2">n+</text>
<line x1="69.7" y1="115.3" x2="69.7" y2="118.5" stroke="#231f20" stroke-width="0.9" />
<line x1="50.9" y1="130.3" x2="53.6" y2="131" stroke="#231f20" stroke-width="0.9" />
</svg></body></html>
